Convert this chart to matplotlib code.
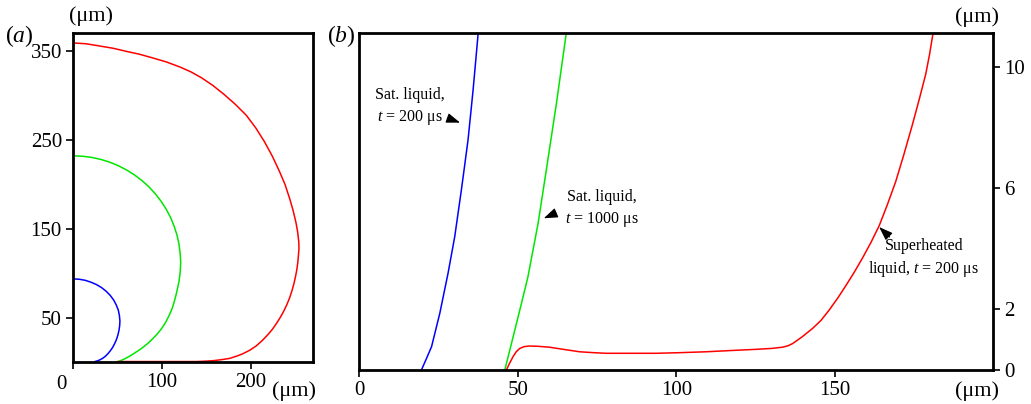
import matplotlib
matplotlib.use("Agg")
import matplotlib.pyplot as plt

plt.rcParams["font.family"] = ["Liberation Serif", "DejaVu Serif"]
plt.rcParams["mathtext.fontset"] = "custom"
plt.rcParams["mathtext.rm"] = "Liberation Serif"
plt.rcParams["mathtext.it"] = "Liberation Serif:italic"

# ---- panel (a): bubble shapes (um)
a_blue_x = [0, 6.9, 13.7, 20.1, 26.4, 32.1, 37.3, 41.8, 45.7, 48.6, 51.0, 52.2, 52.8, 52.5,
            51.8, 50.8, 49.5, 47.9, 46.0, 43.9, 41.5, 39.1, 36.5, 33.6, 30.5, 27.6, 24.7]
a_blue_y = [93.5, 93.1, 91.9, 89.8, 87.1, 83.7, 79.6, 75.0, 69.8, 64.3, 58.3, 52.2, 46.0, 41.0,
            36.0, 31.4, 27.0, 22.9, 19.0, 15.3, 12.0, 9.1, 6.5, 4.3, 2.5, 1.3, 0.5]

a_green_x = [0, 10.5, 21, 31.3, 41.4, 51.1, 60.5, 69.4, 77.8, 85.6, 92.7, 99.1, 104.8, 109.7,
             113.7, 116.9, 119.2, 120.5, 121.2, 120.6, 119.4, 117.9, 116.3, 114.1, 111.5,
             108.4, 105, 101.9, 98.5, 94.4, 90, 85.2, 80, 75.1, 70, 65.1, 60, 55.6, 51]
a_green_y = [232, 231.5, 230.2, 227.9, 224.8, 220.8, 215.9, 210.3, 203.9, 196.9, 189.1, 180.8,
             172, 162.7, 153, 143.1, 132.8, 122.5, 112, 101.5, 91.5, 84.2, 77, 68.5, 60,
             52.9, 46, 40.9, 36, 31.1, 26.5, 21.8, 17.5, 13.8, 10.5, 7.3, 4.5, 2.3, 0.5]

a_red_x = [0, 15, 30, 45, 60, 75, 90, 105, 120, 132.5, 145, 157.5, 170, 182.5, 195, 205.5,
           215.3, 224, 232, 238.6, 244, 247.6, 250.8, 252.7, 254, 254.2, 253.6, 252.9, 251.8,
           250.3, 248.5, 246.4, 244, 241, 237.5, 233.5, 229, 224.3, 219, 212.8, 206, 199,
           191.5, 184, 176, 167, 158, 148.5, 139, 100, 50]
a_red_y = [359, 358, 355.5, 353, 349.5, 346.2, 342, 337.6, 332, 326.5, 319.5, 311, 301, 290,
           277.5, 263.5, 248, 232, 215, 199.5, 183, 170.5, 157, 146.5, 135, 127.5, 120, 112,
           104, 96, 88, 80.5, 73, 65.5, 58, 50.7, 43.5, 36.8, 30.5, 24, 18, 13.3, 9.5, 6.5,
           4, 2.6, 1.5, 0.9, 0.5, 0.5, 0.5]

# ---- panel (b): near-wall close-up (um)
b_blue_x = [19.6, 21.2, 22.8, 24.1, 25.4, 26.7, 28.0, 29.05, 30.1, 31.15, 32.2, 33.25, 34.3,
            35.1, 35.9, 36.7, 37.5]
b_blue_y = [0.0, 0.38, 0.77, 1.32, 1.87, 2.53, 3.19, 3.79, 4.39, 5.16, 5.93, 6.75, 7.58,
            8.4, 9.23, 10.16, 11.1]

b_green_x = [45.9, 47.75, 49.6, 51.4, 53.2, 54.8, 56.4, 57.7, 59.0, 60.6, 62.2, 63.75, 65.3]
b_green_y = [0.0, 0.77, 1.54, 2.3, 3.07, 3.95, 4.83, 5.71, 6.59, 7.69, 8.79, 9.95, 11.1]

b_red_x = [46.4, 47.4, 48.5, 49.5, 50.6, 52.0, 53.7, 56.5, 60.0, 65.0, 69.5, 74.0, 77.9, 85.0,
           93.6, 101.0, 109.4, 117.0, 125.1, 130.0, 133.5, 135.3, 136.7, 139.8, 143.0, 145.7,
           148.2, 151.0, 153.5, 156.2, 158.7, 161.4, 164.0, 166.6, 169.2, 171.8, 174.4, 176.6,
           178.7, 179.9, 181.0]
b_red_y = [0.0, 0.22, 0.44, 0.6, 0.71, 0.77, 0.79, 0.78, 0.75, 0.67, 0.60, 0.57, 0.55, 0.55,
           0.55, 0.57, 0.60, 0.64, 0.68, 0.71, 0.75, 0.80, 0.87, 1.1, 1.37, 1.64,
           1.97, 2.38, 2.78, 3.23, 3.68, 4.2, 4.75, 5.45, 6.2, 7.1, 8.05, 8.9,
           9.75, 10.4, 11.1]

col_blue = "#0000ff"
col_green = "#00e600"
col_red = "#ff0000"

fig = plt.figure(figsize=(10.31, 4.04), dpi=100)

ax1 = fig.add_axes([0.0708, 0.104, 0.2328, 0.814])
ax2 = fig.add_axes([0.3485, 0.0842, 0.6149, 0.8338])

lw = 1.1
ax1.plot(a_blue_x, a_blue_y, color=col_blue, lw=lw)
ax1.plot(a_green_x, a_green_y, color=col_green, lw=lw)
ax1.plot(a_red_x, a_red_y, color=col_red, lw=lw)
ax1.set_xlim(0, 270)
ax1.set_ylim(0, 370)
ax1.set_xticks([0, 100, 200])
ax1.set_xticklabels(["", "100", "200"])
ax1.set_yticks([50, 150, 250, 350])

ax2.plot(b_blue_x, b_blue_y, color=col_blue, lw=lw)
ax2.plot(b_green_x, b_green_y, color=col_green, lw=lw)
ax2.plot(b_red_x, b_red_y, color=col_red, lw=lw)
ax2.set_xlim(0, 200)
ax2.set_ylim(0, 11.1)
ax2.set_xticks([0, 50, 100, 150])
ax2.yaxis.tick_right()
ax2.set_yticks([0, 2, 6, 10])

for ax in (ax1, ax2):
    for s in ax.spines.values():
        s.set_linewidth(2.0)
    ax.tick_params(direction="out", length=5, width=1.2, labelsize=15, pad=3)

ax1.text(-0.05, -0.04, "0", transform=ax1.transAxes, ha="center", va="top", fontsize=15)

# unit labels and panel tags
fig.text(91 / 1031, 1 - 16 / 404, "(μm)", ha="center", va="center", fontsize=16)
fig.text(294 / 1031, 1 - 391 / 404, "(μm)", ha="center", va="center", fontsize=16)
fig.text(977 / 1031, 1 - 17 / 404, "(μm)", ha="center", va="center", fontsize=16)
fig.text(977 / 1031, 1 - 391 / 404, "(μm)", ha="center", va="center", fontsize=16)
fig.text(19 / 1031, 1 - 36 / 404, "($a$)", ha="center", va="center", fontsize=17)
fig.text(341 / 1031, 1 - 36 / 404, "($b$)", ha="center", va="center", fontsize=17)

# annotations
arr = dict(arrowstyle="-|>,head_length=0.7,head_width=0.25", color="black",
           lw=0.8, shrinkA=0, shrinkB=0, mutation_scale=12)
ax2.text(16.0, 8.67, "Sat. liquid,\n$t$ = 200 μs", ha="center", va="center",
         fontsize=11.5, linespacing=1.35)
ax2.annotate("", xy=(31.8, 8.15), xytext=(27.8, 8.3), arrowprops=arr)

ax2.text(76.6, 5.3, "Sat. liquid,\n$t$ = 1000 μs", ha="center", va="center",
         fontsize=11.5, linespacing=1.35)
ax2.annotate("", xy=(58.2, 5.0), xytext=(62.0, 5.17), arrowprops=arr)

ax2.text(178.1, 3.67, "Superheated\nliquid, $t$ = 200 μs", ha="center", va="center",
         fontsize=11.5, linespacing=1.35)
ax2.annotate("", xy=(164.0, 4.71), xytext=(167.3, 4.38), arrowprops=arr)

fig.savefig("out.png", dpi=100)
